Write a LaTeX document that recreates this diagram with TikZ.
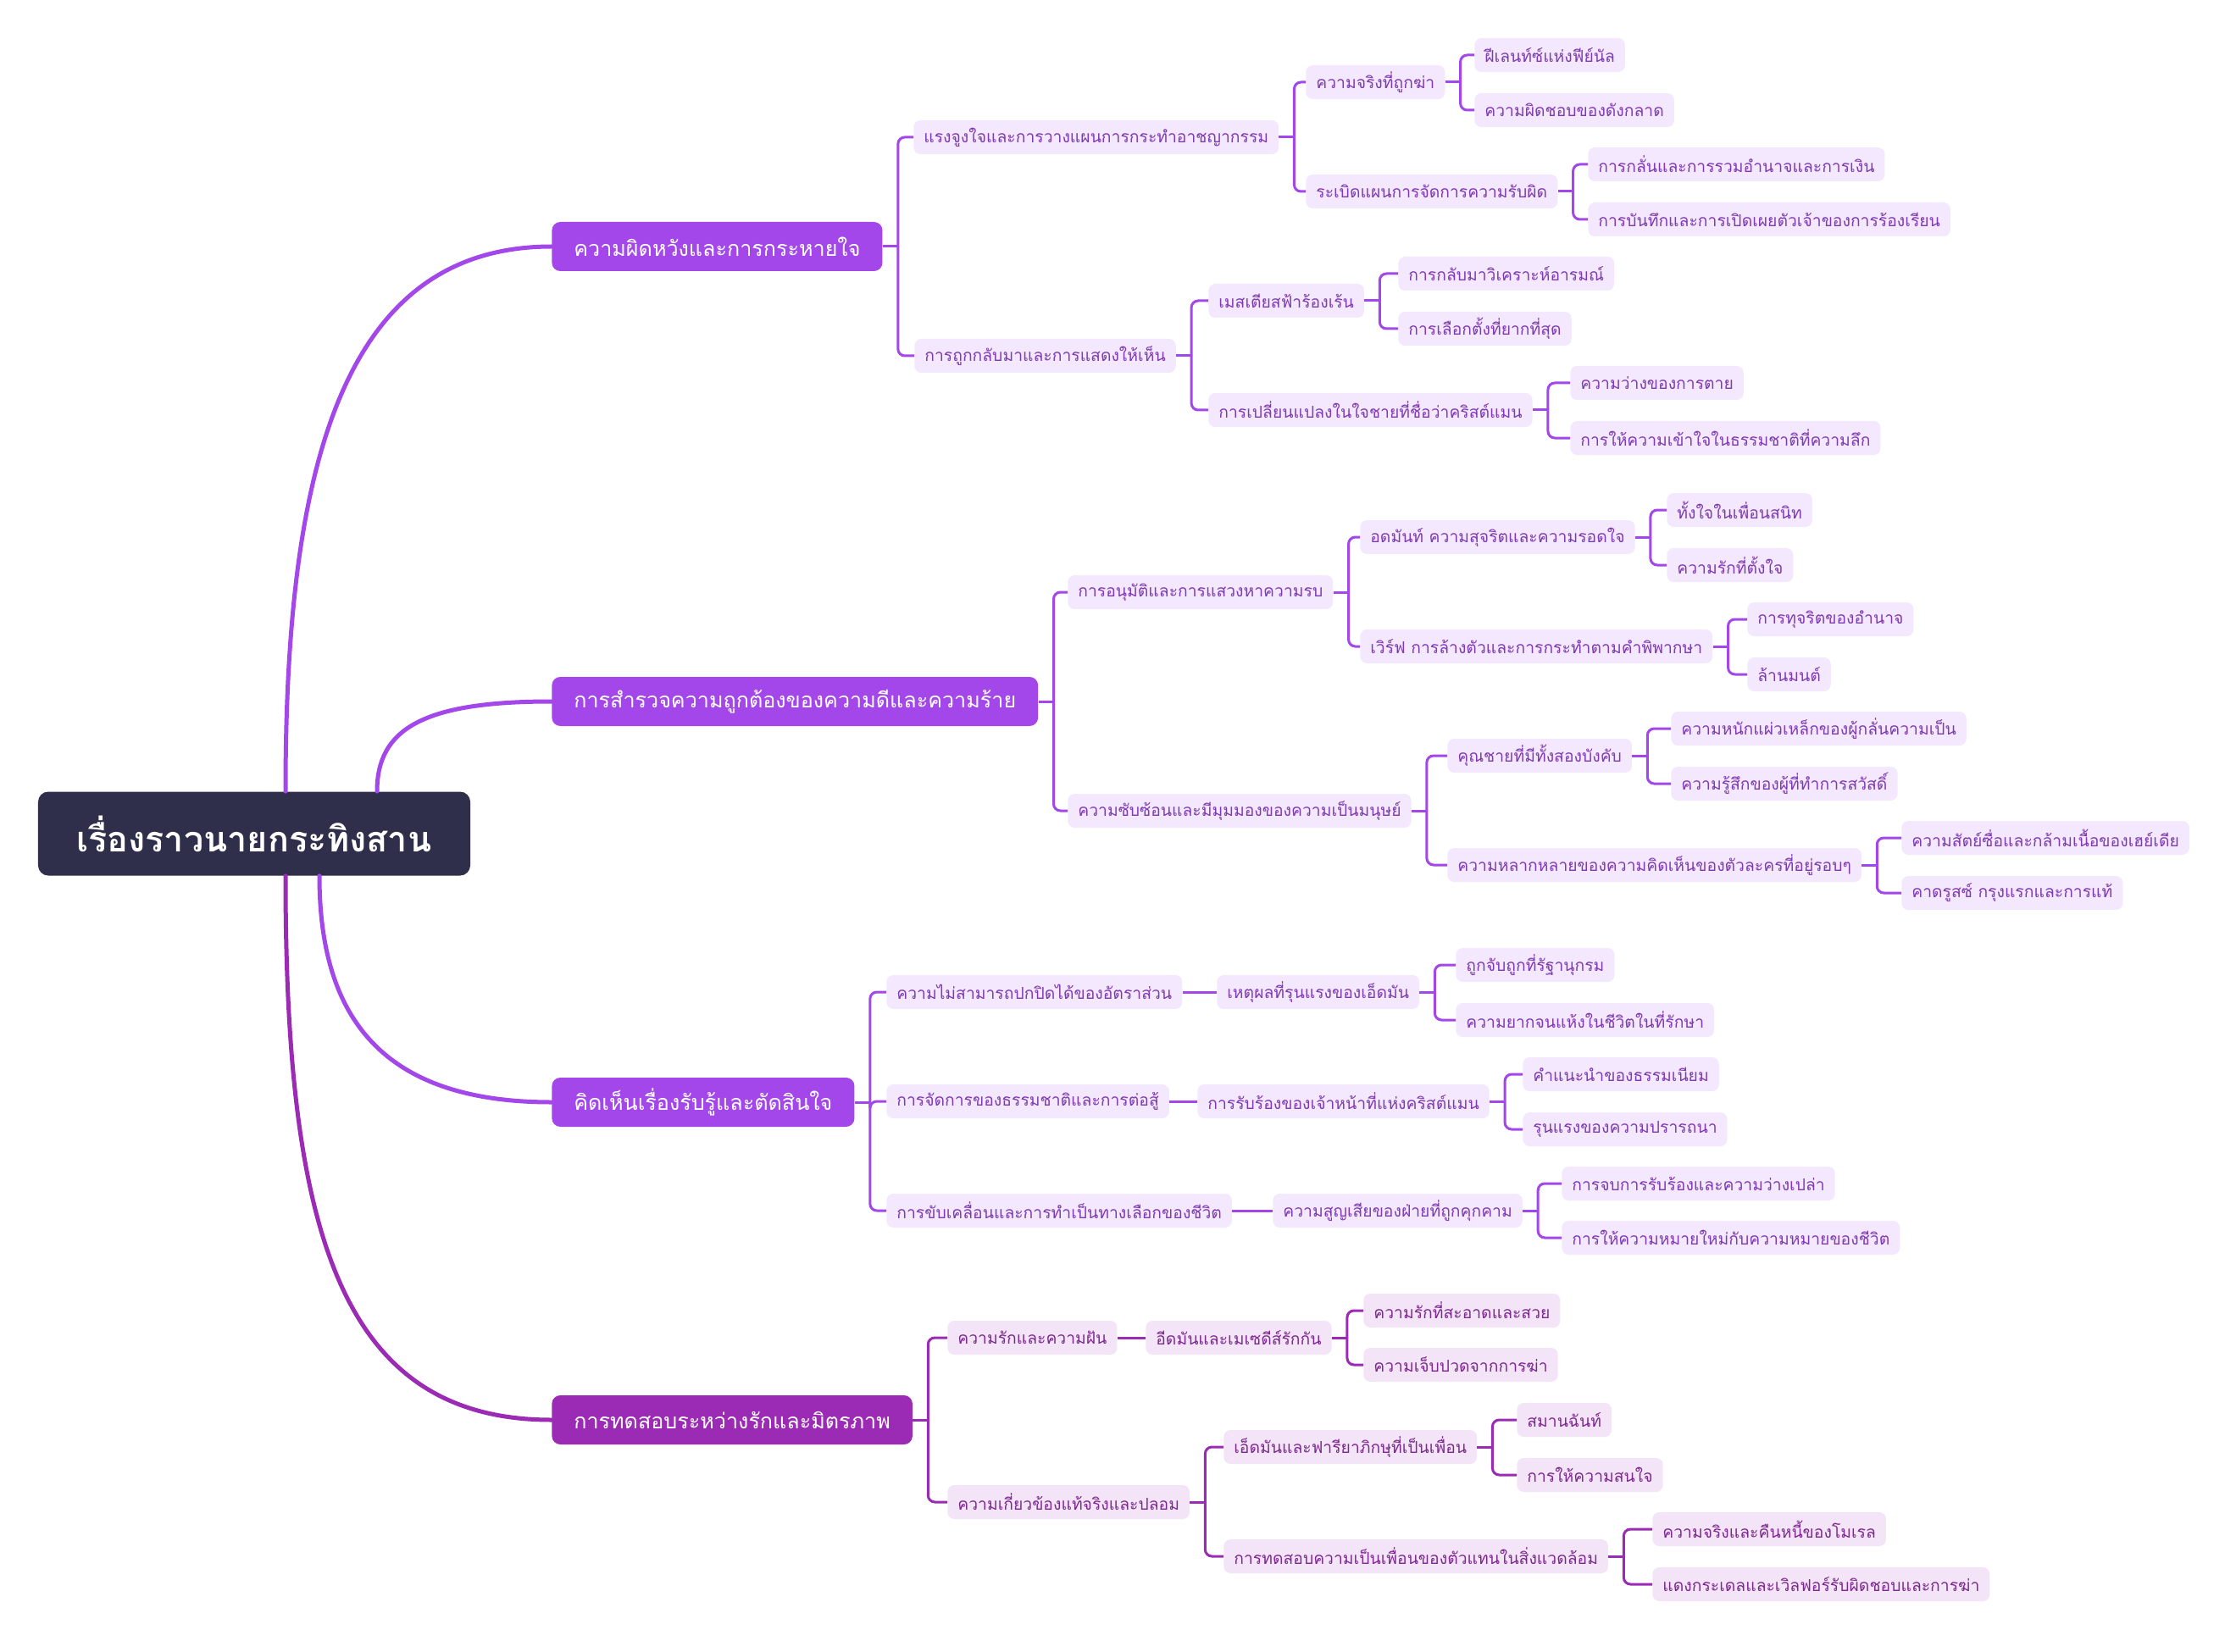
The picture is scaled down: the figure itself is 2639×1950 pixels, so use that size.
\documentclass[tikz,border=0pt]{standalone}
\usepackage{fontspec}
\newfontfamily\thai[Script=Thai]{Loma}
\usetikzlibrary{calc}

\definecolor{rootfill}{HTML}{2F2E4B}
\definecolor{branchA}{HTML}{A346EA}
\definecolor{paleA}{HTML}{F3E8FD}
\definecolor{inkA}{HTML}{7F3AB2}
\definecolor{branchD}{HTML}{9B2BB5}
\definecolor{paleD}{HTML}{F3E5F7}
\definecolor{inkD}{HTML}{7D2890}

\begin{document}
\begin{tikzpicture}[
  x=0.2mm, y=-0.2mm,
  root/.style={fill=rootfill, text=white, rounded corners=2.4mm, minimum width=102mm, minimum height=19.8mm, font=\thai\fontsize{23.5}{28}\selectfont\bfseries},
  topic/.style={fill=branchA, text=white, anchor=west, rounded corners=2mm, minimum height=11.6mm, inner xsep=5.2mm, font=\thai\fontsize{14.3}{17}\selectfont},
  topicD/.style={topic, fill=branchD},
  sub/.style={fill=paleA, text=inkA, anchor=west, rounded corners=1.6mm, minimum height=8mm, inner xsep=2.4mm, font=\thai\fontsize{11}{13}\selectfont},
  subD/.style={sub, fill=paleD, text=inkD},
  link/.style={draw=branchA, line width=0.6mm, rounded corners=1.6mm},
  linkD/.style={link, draw=branchD},
  trunk/.style={line width=1mm, line cap=round}
]
\fill[white] (0,0) rectangle (2639,1950);
\useasboundingbox (0,0) rectangle (2639,1950);

\node[root] (root) at (300,984) {เรื่องราวนายกระทิงสาน};

% first level
\node[topic] (ta) at (651,291) {ความผิดหวังและการกระหายใจ};
\node[topic] (tb) at (651,828) {การสำรวจความถูกต้องของความดีและความร้าย};
\node[topic] (tc) at (651,1301) {คิดเห็นเรื่องรับรู้และตัดสินใจ};
\node[topicD] (td) at (651,1676) {การทดสอบระหว่างรักและมิตรภาพ};

\draw[trunk, branchA] ($(root.north)+(37,0)$) .. controls (337,560) and (400,291) .. (ta.west);
\draw[trunk, branchA] ($(root.north)+(145,0)$) .. controls (445,860) and (500,828) .. (tb.west);
\draw[trunk, branchA] ($(root.south)+(77,0)$) .. controls (377,1200) and (450,1301) .. (tc.west);
\draw[trunk, branchD] ($(root.south)+(37,0)$) .. controls (337,1450) and (400,1676) .. (td.west);

% branch a
\node[sub] (a1) at (1078,162) {แรงจูงใจและการวางแผนการกระทำอาชญากรรม};
\node[sub] (a11) at (1541,97) {ความจริงที่ถูกฆ่า};
\node[sub] (a111) at (1740,65) {ฝีเลนท์ซ์แห่งฟีย์นัล};
\node[sub] (a112) at (1740,130) {ความผิดชอบของดังกลาด};
\node[sub] (a12) at (1541,226) {ระเบิดแผนการจัดการความรับผิด};
\node[sub] (a121) at (1874,194) {การกลั่นและการรวมอำนาจและการเงิน};
\node[sub] (a122) at (1874,259) {การบันทึกและการเปิดเผยตัวเจ้าของการร้องเรียน};
\node[sub] (a2) at (1079,420) {การถูกกลับมาและการแสดงให้เห็น};
\node[sub] (a21) at (1426,355) {เมสเตียสฟ้าร้องเร้น};
\node[sub] (a211) at (1650,323) {การกลับมาวิเคราะห์อารมณ์};
\node[sub] (a212) at (1650,388) {การเลือกตั้งที่ยากที่สุด};
\node[sub] (a22) at (1426,484) {การเปลี่ยนแปลงในใจชายที่ชื่อว่าคริสต์แมน};
\node[sub] (a221) at (1853,452) {ความว่างของการตาย};
\node[sub] (a222) at (1853,517) {การให้ความเข้าใจในธรรมชาติที่ความลึก};

\draw[link] (ta.east) -- ++(18,0) coordinate (taj);
\foreach \c in {a1,a2} \draw[link] (\c.west) -| (taj);
\draw[link] (a1.east) -- ++(18,0) coordinate (a1j);
\foreach \c in {a11,a12} \draw[link] (\c.west) -| (a1j);
\draw[link] (a11.east) -- ++(18,0) coordinate (a11j);
\foreach \c in {a111,a112} \draw[link] (\c.west) -| (a11j);
\draw[link] (a12.east) -- ++(18,0) coordinate (a12j);
\foreach \c in {a121,a122} \draw[link] (\c.west) -| (a12j);
\draw[link] (a2.east) -- ++(18,0) coordinate (a2j);
\foreach \c in {a21,a22} \draw[link] (\c.west) -| (a2j);
\draw[link] (a21.east) -- ++(18,0) coordinate (a21j);
\foreach \c in {a211,a212} \draw[link] (\c.west) -| (a21j);
\draw[link] (a22.east) -- ++(18,0) coordinate (a22j);
\foreach \c in {a221,a222} \draw[link] (\c.west) -| (a22j);

% branch b
\node[sub] (b1) at (1260,699) {การอนุมัติและการแสวงหาความรบ};
\node[sub] (b11) at (1605,634) {อดมันท์ ความสุจริตและความรอดใจ};
\node[sub] (b111) at (1967,602) {ทั้งใจในเพื่อนสนิท};
\node[sub] (b112) at (1967,667) {ความรักที่ตั้งใจ};
\node[sub] (b12) at (1605,763) {เวิร์ฟ การล้างตัวและการกระทำตามคำพิพากษา};
\node[sub] (b121) at (2062,731) {การทุจริตของอำนาจ};
\node[sub] (b122) at (2062,796) {ล้านมนต์};
\node[sub] (b2) at (1260,957) {ความซับซ้อนและมีมุมมองของความเป็นมนุษย์};
\node[sub] (b21) at (1708,892) {คุณชายที่มีทั้งสองบังคับ};
\node[sub] (b211) at (1972,860) {ความหนักแผ่วเหล็กของผู้กลั่นความเป็น};
\node[sub] (b212) at (1972,925) {ความรู้สึกของผู้ที่ทำการสวัสดิ์};
\node[sub] (b22) at (1708,1021) {ความหลากหลายของความคิดเห็นของตัวละครที่อยู่รอบๆ};
\node[sub] (b221) at (2244,989) {ความสัตย์ซื่อและกล้ามเนื้อของเฮย์เดีย};
\node[sub] (b222) at (2244,1054) {คาดรูสซ์ กรุงแรกและการแท้};

\draw[link] (tb.east) -- ++(18,0) coordinate (tbj);
\foreach \c in {b1,b2} \draw[link] (\c.west) -| (tbj);
\draw[link] (b1.east) -- ++(18,0) coordinate (b1j);
\foreach \c in {b11,b12} \draw[link] (\c.west) -| (b1j);
\draw[link] (b11.east) -- ++(18,0) coordinate (b11j);
\foreach \c in {b111,b112} \draw[link] (\c.west) -| (b11j);
\draw[link] (b12.east) -- ++(18,0) coordinate (b12j);
\foreach \c in {b121,b122} \draw[link] (\c.west) -| (b12j);
\draw[link] (b2.east) -- ++(18,0) coordinate (b2j);
\foreach \c in {b21,b22} \draw[link] (\c.west) -| (b2j);
\draw[link] (b21.east) -- ++(18,0) coordinate (b21j);
\foreach \c in {b211,b212} \draw[link] (\c.west) -| (b21j);
\draw[link] (b22.east) -- ++(18,0) coordinate (b22j);
\foreach \c in {b221,b222} \draw[link] (\c.west) -| (b22j);

% branch c
\node[sub] (c1) at (1046,1171) {ความไม่สามารถปกปิดได้ของอัตราส่วน};
\node[sub] (c11) at (1436,1171) {เหตุผลที่รุนแรงของเอ็ดมัน};
\node[sub] (c111) at (1718,1139) {ถูกจับถูกที่รัฐานุกรม};
\node[sub] (c112) at (1718,1204) {ความยากจนแห้งในชีวิตในที่รักษา};
\node[sub] (c2) at (1046,1300) {การจัดการของธรรมชาติและการต่อสู้};
\node[sub] (c21) at (1413,1300) {การรับร้องของเจ้าหน้าที่แห่งคริสต์แมน};
\node[sub] (c211) at (1797,1268) {คำแนะนำของธรรมเนียม};
\node[sub] (c212) at (1797,1333) {รุนแรงของความปรารถนา};
\node[sub] (c3) at (1046,1429) {การขับเคลื่อนและการทำเป็นทางเลือกของชีวิต};
\node[sub] (c31) at (1502,1429) {ความสูญเสียของฝ่ายที่ถูกคุกคาม};
\node[sub] (c311) at (1843,1397) {การจบการรับร้องและความว่างเปล่า};
\node[sub] (c312) at (1843,1461) {การให้ความหมายใหม่กับความหมายของชีวิต};

\draw[link] (tc.east) -- ++(18,0) coordinate (tcj);
\foreach \c in {c1,c2,c3} \draw[link] (\c.west) -| (tcj);
\draw[link] (c1.east) -- (c11.west);
\draw[link] (c11.east) -- ++(18,0) coordinate (c11j);
\foreach \c in {c111,c112} \draw[link] (\c.west) -| (c11j);
\draw[link] (c2.east) -- (c21.west);
\draw[link] (c21.east) -- ++(18,0) coordinate (c21j);
\foreach \c in {c211,c212} \draw[link] (\c.west) -| (c21j);
\draw[link] (c3.east) -- (c31.west);
\draw[link] (c31.east) -- ++(18,0) coordinate (c31j);
\foreach \c in {c311,c312} \draw[link] (\c.west) -| (c31j);

% branch d
\node[subD] (d1) at (1118,1579) {ความรักและความฝัน};
\node[subD] (d11) at (1352,1579) {อีดมันและเมเซดีส์รักกัน};
\node[subD] (d111) at (1609,1547) {ความรักที่สะอาดและสวย};
\node[subD] (d112) at (1609,1611) {ความเจ็บปวดจากการฆ่า};
\node[subD] (d2) at (1118,1773) {ความเกี่ยวข้องแท้จริงและปลอม};
\node[subD] (d21) at (1444,1708) {เอ็ดมันและฟารียาภิกษุที่เป็นเพื่อน};
\node[subD] (d211) at (1790,1676) {สมานฉันท์};
\node[subD] (d212) at (1790,1741) {การให้ความสนใจ};
\node[subD] (d22) at (1444,1837) {การทดสอบความเป็นเพื่อนของตัวแทนในสิ่งแวดล้อม};
\node[subD] (d221) at (1950,1805) {ความจริงและคืนหนี้ของโมเรล};
\node[subD] (d222) at (1950,1870) {แดงกระเดลและเวิลฟอร์รับผิดชอบและการฆ่า};

\draw[linkD] (td.east) -- ++(18,0) coordinate (tdj);
\foreach \c in {d1,d2} \draw[linkD] (\c.west) -| (tdj);
\draw[linkD] (d1.east) -- (d11.west);
\draw[linkD] (d11.east) -- ++(18,0) coordinate (d11j);
\foreach \c in {d111,d112} \draw[linkD] (\c.west) -| (d11j);
\draw[linkD] (d2.east) -- ++(18,0) coordinate (d2j);
\foreach \c in {d21,d22} \draw[linkD] (\c.west) -| (d2j);
\draw[linkD] (d21.east) -- ++(18,0) coordinate (d21j);
\foreach \c in {d211,d212} \draw[linkD] (\c.west) -| (d21j);
\draw[linkD] (d22.east) -- ++(18,0) coordinate (d22j);
\foreach \c in {d221,d222} \draw[linkD] (\c.west) -| (d22j);
\end{tikzpicture}
\end{document}
